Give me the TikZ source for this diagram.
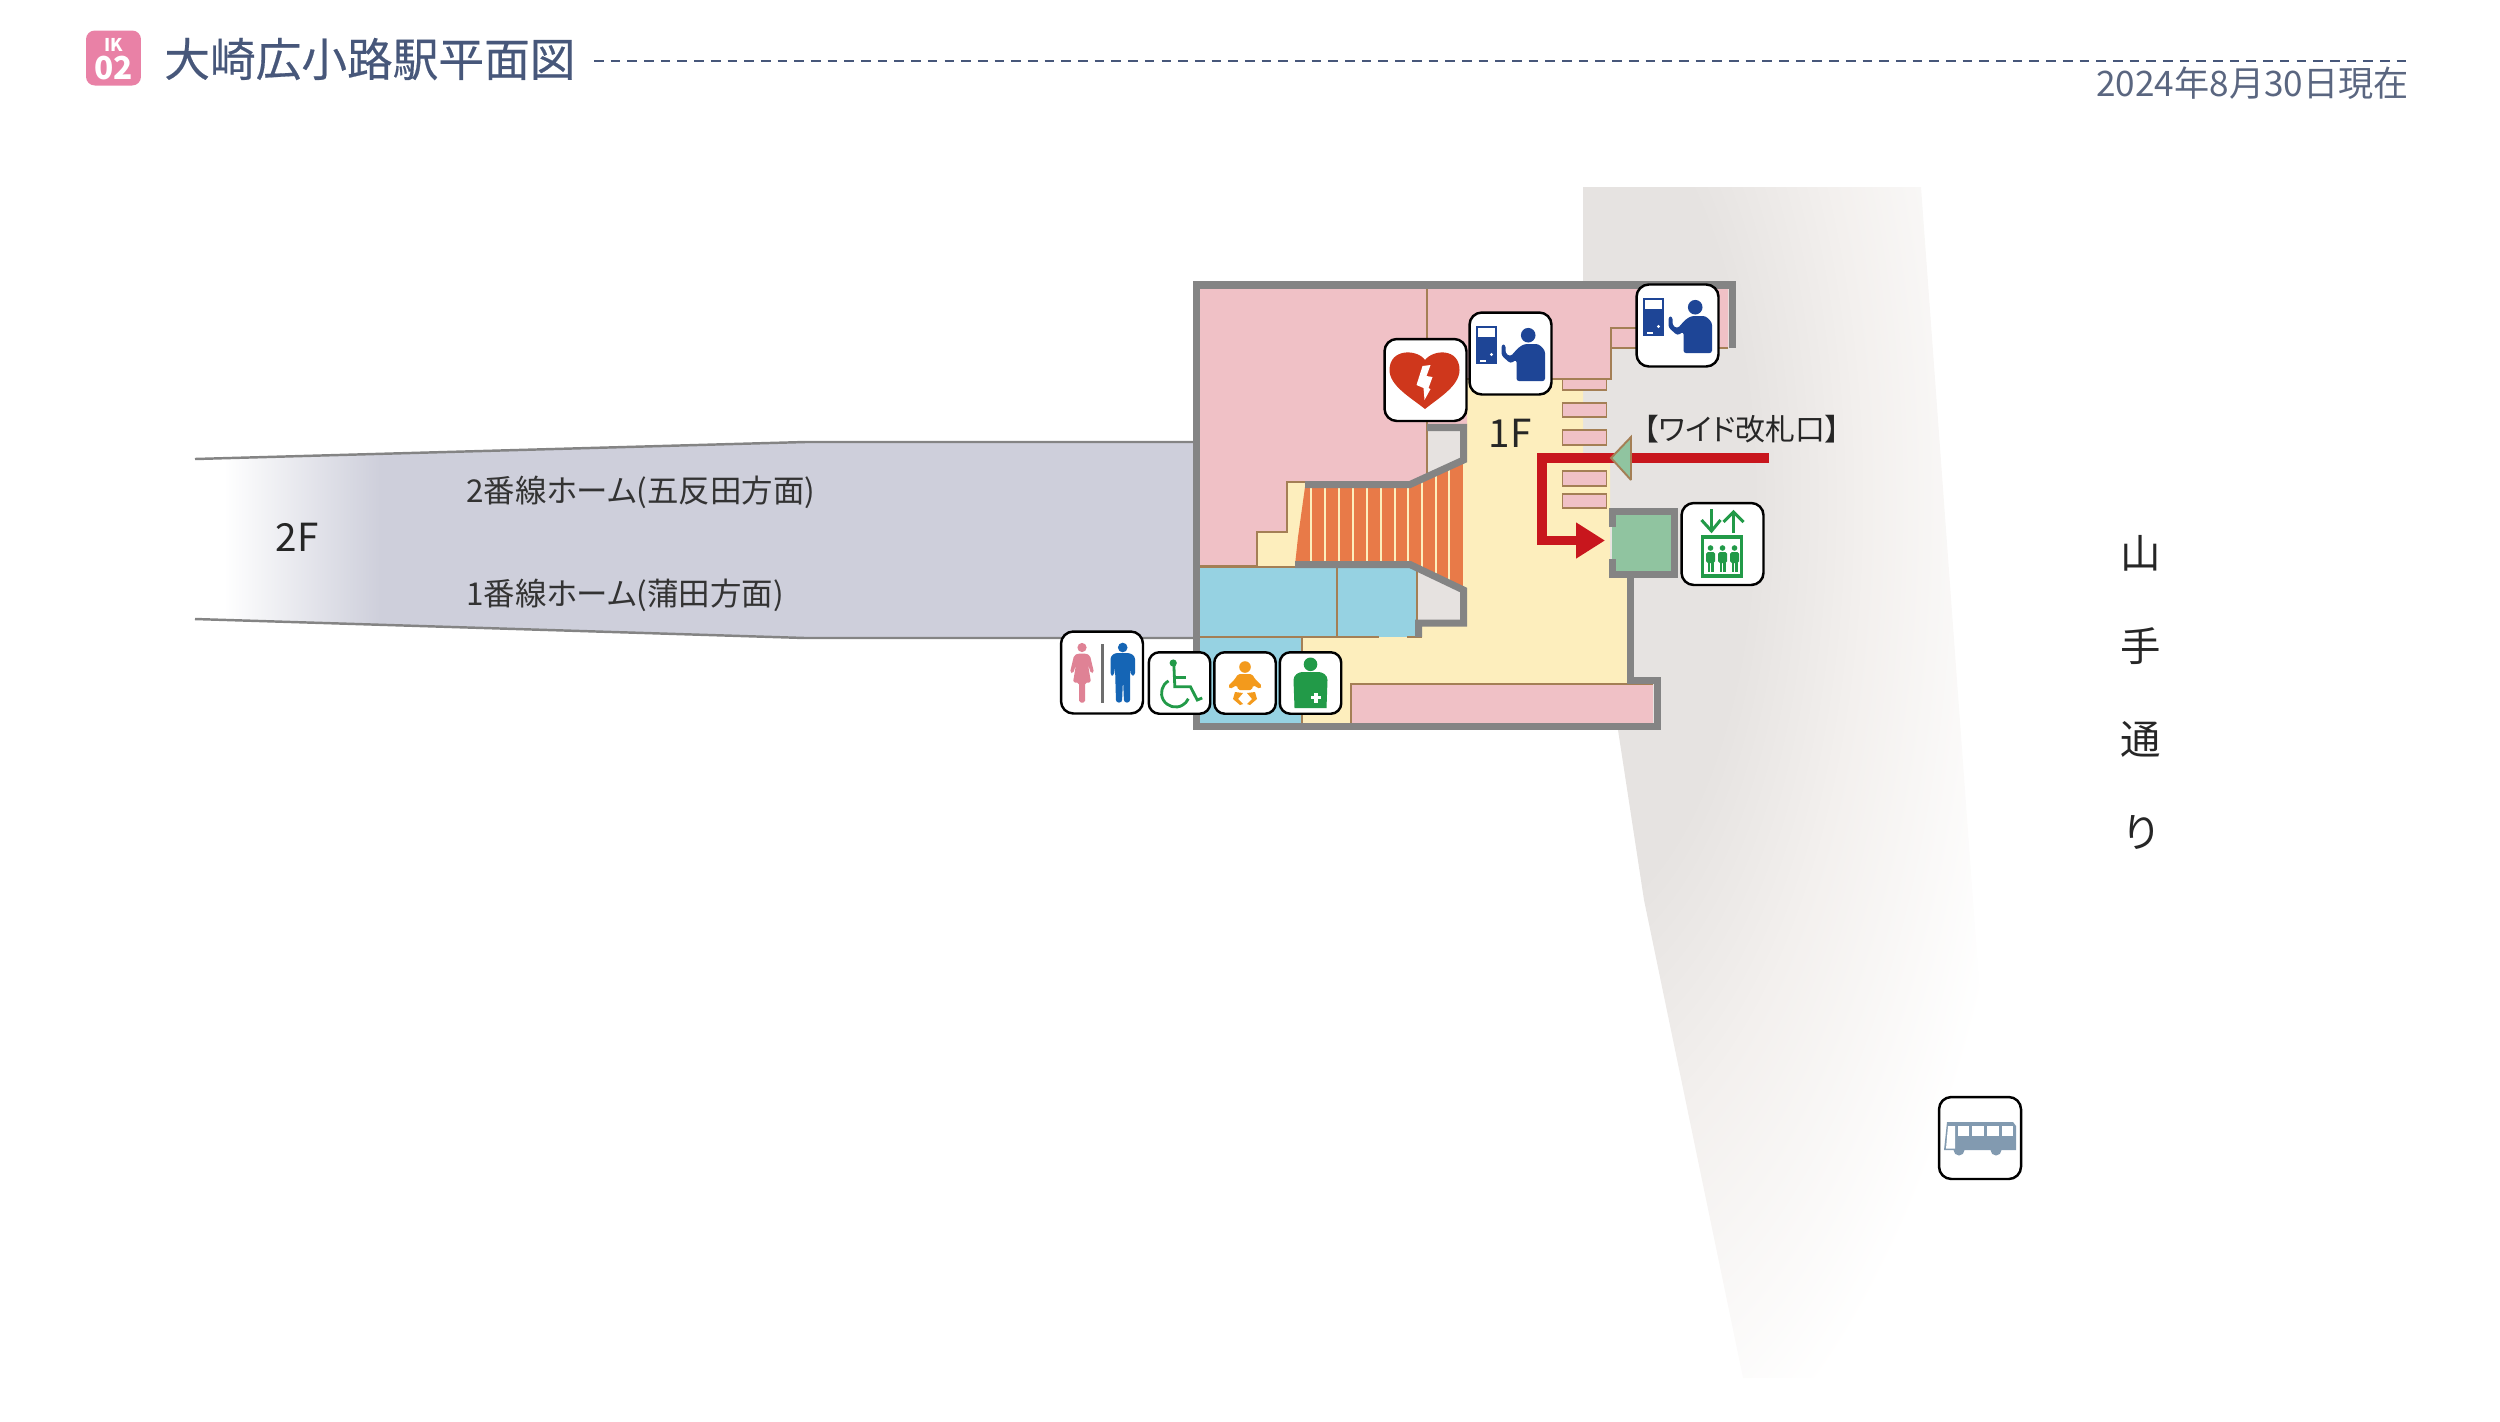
\documentclass[tikz,border=0pt]{standalone}
\usepackage{fontspec}
\setmainfont{Noto Sans CJK JP}[RawFeature=+palt]
\newfontfamily\titlefont{Noto Sans CJK JP}[FakeBold=0.4]
\usetikzlibrary{arrows.meta,positioning,calc}

\definecolor{navytext}{HTML}{47577A}
\definecolor{datetext}{HTML}{5A6680}
\definecolor{badgepink}{HTML}{E981A6}
\definecolor{wallgrey}{HTML}{848484}
\definecolor{roomline}{HTML}{A47F55}
\definecolor{roompink}{HTML}{F0C1C6}
\definecolor{floorbeige}{HTML}{FDEEBD}
\definecolor{roomblue}{HTML}{96D2E2}
\definecolor{stairorange}{HTML}{E87A48}
\definecolor{liftgreen}{HTML}{90C4A0}
\definecolor{routered}{HTML}{C8161D}
\definecolor{niche}{HTML}{E6E2E0}
\definecolor{platform}{HTML}{CECFDB}
\definecolor{roadgrey}{HTML}{E6E3E1}
\definecolor{roadmid}{HTML}{F3F0EE}
\definecolor{signblue}{HTML}{1E4596}
\definecolor{signred}{HTML}{CF371C}
\definecolor{signgreen}{HTML}{229A48}
\definecolor{signorange}{HTML}{F39A1C}
\definecolor{signpink}{HTML}{DF8295}
\definecolor{signmale}{HTML}{1565B5}
\definecolor{signgrey}{HTML}{6E6E6E}
\definecolor{signbus}{HTML}{829AB0}

\pgfdeclareradialshading{roadfade}{\pgfpointorigin}{color(0bp)=(roadgrey); color(10bp)=(roadgrey); color(16bp)=(roadmid); color(25bp)=(white); color(50bp)=(white)}

\tikzset{
  ticketmark/.pic={
    \fill [signblue] (-35,-28) rectangle (-14,10);
    \fill [white] (-33,-26) rectangle (-16,-17);
    \fill [white] (-19,1) circle [radius=1.6];
    \fill [white] (-31,6.5) rectangle (-25,8.5);
    \fill [signblue] (17.7,-18.3) circle [radius=7.3];
    \fill [signblue, rounded corners=1.5] (6,27.6) -- (6,6) -- (0,10) -- (-9,2) -- (-9,-9) -- (-5,-9) -- (-5,0) -- (0,3) -- (8,-6) -- (14,-9.5) -- (28,-9.5) -- (34.5,-3) -- (34.5,27.6) -- cycle;
  },
  aedmark/.pic={
    \fill [signred] (-0.5,-20) .. controls (-8,-31) and (-36,-32) .. (-36,-10) .. controls (-36,6) and (-14,18) .. (-0.5,29) .. controls (13,18) and (34,6) .. (34,-10) .. controls (34,-32) and (8,-31) .. (-0.5,-20) -- cycle;
    \fill [white] (-3,-14) -- (5,-15) -- (1,-4) -- (7,-3) -- (3,8) -- (5,9) -- (-1,20) -- (-2,8) -- (-9,5) -- cycle;
  },
  liftmark/.pic={
    \draw [signgreen, line width=1.7pt] (-11,-35) -- (-11,-13);
    \draw [signgreen, line width=1.7pt] (-21,-24) -- (-11,-13) -- (-2,-24);
    \draw [signgreen, line width=1.7pt] (11,-11) -- (11,-32);
    \draw [signgreen, line width=1.7pt] (1,-22) -- (11,-32) -- (21,-22);
    \draw [signgreen, line width=2.2pt] (-20,-7) rectangle (19,32);
    \foreach \px in {-12,0,12} {
      \fill [signgreen] (\px,4) circle [radius=2.8];
      \fill [signgreen, rounded corners=1] (\px-4.5,8) rectangle (\px+4.5,19);
      \fill [signgreen] (\px-3,15) rectangle (\px-0.5,28);
      \fill [signgreen] (\px+0.5,15) rectangle (\px+3,28);
    }
  },
  toiletmark/.pic={
    \fill [signpink] (-20,-25) circle [radius=4.6];
    \fill [signpink, rounded corners=1] (-24,-19) -- (-16,-19) -- (-12,-17) -- (-8,0) -- (-11,1) -- (-14,-8) -- (-11,10) -- (-17,10) -- (-17,30) -- (-23,30) -- (-23,10) -- (-29,10) -- (-26,-8) -- (-29,1) -- (-32,0) -- (-28,-17) -- cycle;
    \fill [signgrey] (-1.5,-29) rectangle (2.3,30);
    \fill [signmale] (20.7,-25) circle [radius=4.8];
    \fill [signmale, rounded corners=1.5] (13,-19.5) -- (28,-19.5) -- (33,-16) -- (33,3) -- (29,3) -- (28,-6) -- (28,30) -- (22,30) -- (21,7) -- (20,30) -- (14,30) -- (13,-6) -- (12,3) -- (8.5,3) -- (8.5,-16) -- cycle;
  },
  wheelmark/.pic={
    \fill [signgreen] (-6.3,-20) circle [radius=3.6];
    \draw [signgreen, line width=1.6pt] (-5.7,-20) -- (-4.7,3.7) -- (11,3.7) -- (17.7,17) -- (22.7,15);
    \draw [signgreen, line width=1.6pt] (-4.7,-5.3) -- (6,-5.3);
    \draw [signgreen, line width=1.6pt] (-11,-2.1) arc [start angle=240, end angle=24, radius=14];
  },
  babymark/.pic={
    \fill [signorange] (0,-16) circle [radius=5.8];
    \fill [signorange, rounded corners=1] (-7,-9) -- (7,-9) -- (10,-4) -- (17,3) -- (15,6) -- (8,2) -- (7,7) -- (-7,7) -- (-8,2) -- (-15,6) -- (-17,3) -- (-10,-4) -- cycle;
    \fill [signorange] (-10,9) -- (-2,10) -- (-7,16) -- (-2,21) -- (-5,22) -- (-12,16) -- cycle;
    \fill [signorange] (10,9) -- (2,10) -- (7,16) -- (2,21) -- (5,22) -- (12,16) -- cycle;
  },
  nursemark/.pic={
    \fill [signgreen] (0,-18.7) circle [radius=6.8];
    \fill [signgreen] (-16,25) -- (16,25) -- (17,-3) .. controls (17,-8) and (12,-11) .. (8,-11) -- (-8,-11) .. controls (-12,-11) and (-17,-8) .. (-17,-3) -- cycle;
    \fill [white] (3.5,9.7) rectangle (7.1,19.7);
    \fill [white] (0.3,13) rectangle (10.3,16.4);
  },
  busmark/.pic={
    \fill [signbus] (-36,12) -- (-33,-16) -- (33,-16) -- (36,-12) -- (36,12) -- cycle;
    \fill [signbus] (-21,12) circle [radius=5.5];
    \fill [signbus] (16,12) circle [radius=5.5];
    \fill [white] (-32,-12) -- (-25,-12) -- (-25,10.5) -- (-34,10.5) -- cycle;
    \fill [white] (-22,-12) rectangle (-11.5,-2.5);
    \fill [white] (-8,-12) rectangle (3.7,-2.5);
    \fill [white] (6.7,-12) rectangle (18.7,-2.5);
    \fill [white] (21.7,-12) rectangle (32.7,-2.5);
  }
}

\begin{document}
\begin{tikzpicture}[x=0.02cm, y=-0.02cm]

\tikzstyle{wall} = [draw=wallgrey, line width=4pt, line join=miter]
\tikzstyle{roomedge} = [draw=roomline, line width=1.1pt]
\tikzstyle{gatebar} = [rectangle, fill=roompink, draw=roomline, line width=1.1pt, minimum width=0.88cm, inner sep=0pt]
\tikzstyle{bigsign} = [rectangle, rounded corners=7pt, fill=white, draw=black, line width=1.4pt, minimum size=1.64cm, inner sep=0pt]
\tikzstyle{smallsign} = [rectangle, rounded corners=6pt, fill=white, draw=black, line width=1.4pt, minimum size=1.23cm, inner sep=0pt]
\tikzstyle{floorlabel} = [inner sep=0pt, font=\fontsize{22}{24}\selectfont, text=black!85]
\tikzstyle{homelabel} = [inner sep=0pt, anchor=west, font=\fontsize{17.9}{20}\selectfont, text=black!80]
\tikzstyle{roadlabel} = [inner sep=0pt, font=\fontsize{23}{25}\selectfont, text=black!85]

\useasboundingbox (0,0) rectangle (2500,1421);

% road
\begin{scope}
\clip (1583,187) -- (1921,187) -- (1973,900) -- (2010,1378) -- (1743,1378) -- (1644,900) -- (1618,730) -- (1583,600) -- cycle;
\shade [shading=roadfade] (1560,500) ellipse [x radius=480, y radius=1050];
\end{scope}

% header
\node (badge) [rectangle, rounded corners=5pt, fill=badgepink, minimum width=1.1cm, minimum height=1.1cm, inner sep=0pt] at (113.5,58) {};
\node (badgeik) [inner sep=0pt, text=white, font=\fontsize{10}{11}\selectfont\bfseries] at (113.5,45) {IK};
\node (badgeno) [inner sep=0pt, text=white, font=\fontsize{18}{19}\selectfont\bfseries] at (113.5,68) {02};
\node (title) [inner sep=0pt, anchor=west, text=navytext, font=\titlefont\fontsize{26}{28}\selectfont] at (164,59) {大崎広小路駅平面図};
\coordinate (dashstart) at (594,61);
\coordinate (dashend) at (2411,61);
\draw [navytext, line width=1.4pt, dash pattern=on 5.5pt off 4pt] (dashstart) -- (dashend);
\node (asof) [inner sep=0pt, anchor=east, text=datetext, font=\fontsize{20}{22}\selectfont] at (2409,83) {2024年8月30日現在};

% platform
\shade [left color=white, right color=platform] (224,458.2) -- (380,453.8) -- (380,624.8) -- (224,619.9) -- cycle;
\fill [platform] (380,453.8) -- (805,442) -- (1199,442) -- (1199,638) -- (805,638) -- (380,624.8) -- cycle;
\draw [wallgrey, line width=1.4pt] (195,459) -- (805,442) -- (1199,442);
\draw [wallgrey, line width=1.4pt] (195,619) -- (805,638) -- (1199,638);

% floors
\fill [floorbeige] (1199,288) -- (1583,288) -- (1583,453) -- (1610,453) -- (1610,575) -- (1630,575) -- (1630,723) -- (1199,723) -- cycle;
\fill [roompink] (1199,288) -- (1728,288) -- (1728,348) -- (1611,348) -- (1611,379) -- (1467,379) -- (1467,427) -- (1427,427) -- (1427,482) -- (1287,482) -- (1287,532) -- (1257,532) -- (1257,566) -- (1199,566) -- cycle;
\fill [roomblue] (1199,566.7) rectangle (1417,637);
\fill [roomblue] (1199,637) rectangle (1302,723);
\fill [roompink] (1351,684) rectangle (1653,723);
\fill [niche] (1427,427) -- (1463,427) -- (1463,460) -- (1427,476) -- cycle;
\fill [niche] (1417,570) -- (1463,590) -- (1463,623) -- (1417,623) -- cycle;

% stairs
\begin{scope}
\clip (1298,537) -- (1305,487) -- (1410,487) -- (1463,462) -- (1463,590) -- (1410,565) -- (1295,565) -- cycle;
\fill [stairorange] (1290,450) rectangle (1463,600);
\foreach \sx in {1311,1325,1339,1353,1367,1381,1395,1408,1422,1436,1449}
  \draw [floorbeige, line width=1.3pt] (\sx,450) -- (\sx,600);
\end{scope}

% thin lines
\draw [roomedge] (1199,566) -- (1257,566) -- (1257,532) -- (1287,532) -- (1287,482) -- (1305,482);
\draw [roomedge] (1427,288) -- (1427,476);
\draw [roomedge] (1636,328) -- (1611,328) -- (1611,379) -- (1467,379);
\draw [roomedge] (1611,348) -- (1728,348);
\draw [roomedge] (1298,566.7) -- (1199,566.7);
\draw [roomedge] (1337,566.7) -- (1337,637);
\draw [roomedge] (1417,567) -- (1417,623);
\draw [roomedge] (1199,637) -- (1379,637);
\draw [roomedge] (1407,637) -- (1422,637);
\draw [roomedge] (1302,637) -- (1302,723);
\draw [roomedge] (1351,723) -- (1351,684) -- (1653,684);

% walls
\draw [wall] (1732,348) -- (1732,285) -- (1196,285) -- (1196,726.5) -- (1657,726.5) -- (1657,680.5) -- (1630,680.5) -- (1630,575);
\draw [wall] (1305,484.5) -- (1410,484.5) -- (1463.5,460) -- (1463.5,427.5) -- (1427,427.5);
\draw [wall] (1295,564.5) -- (1410,564.5) -- (1463.5,590) -- (1463.5,623) -- (1418.5,623) -- (1418.5,637);

% lift
\node (lift) [rectangle, fill=liftgreen, minimum width=1.24cm, minimum height=1.26cm, inner sep=0pt] at (1643,542.5) {};
\draw [wall] (1612,527) -- (1612,511) -- (1674,511) -- (1674,574) -- (1612,574) -- (1612,559);

% gates
\node (gate1) [gatebar, minimum height=0.22cm] at (1584.5,384.5) {};
\node (gate2) [gatebar, minimum height=0.28cm] at (1584.5,410) {};
\node (gate3) [gatebar, minimum height=0.3cm] at (1584.5,437.5) {};
\node (gate4) [gatebar, minimum height=0.3cm] at (1584.5,478.5) {};
\node (gate5) [gatebar, minimum height=0.28cm] at (1584.5,501) {};

% route
\coordinate (routein) at (1769,458);
\coordinate (routeturn) at (1542,458);
\coordinate (routedown) at (1542,540.5);
\coordinate (routeend) at (1605,540.5);
\draw [routered, line width=5.4pt, line join=miter, -{Triangle[length=16.4pt,width=19.3pt]}] (routein) -- (routeturn) -- (routedown) -- (routeend);
\fill [liftgreen] (1611,458) -- (1631,437) -- (1631,480) -- cycle;
\draw [roomline, line width=1.1pt] (1631,480) -- (1611,458) -- (1631,437) -- (1631,480);

% signs
\node (aed) [bigsign] at (1425.5,380) {};
\pic at (aed) {aedmark};
\node (ticketa) [bigsign] at (1510.5,353.5) {};
\pic at (ticketa) {ticketmark};
\node (ticketb) [bigsign] at (1677.5,325.5) {};
\pic at (ticketb) {ticketmark};
\node (liftsign) [bigsign] at (1722.5,544) {};
\pic at (liftsign) {liftmark};
\node (toilet) [bigsign] at (1102,672.5) {};
\pic at (toilet) {toiletmark};
\node (wheel) [smallsign] at (1179.5,683) {};
\pic at (wheel) {wheelmark};
\node (baby) [smallsign] at (1245,683) {};
\pic at (baby) {babymark};
\node (nurse) [smallsign] at (1310.5,683) {};
\pic at (nurse) {nursemark};
\node (bus) [bigsign] at (1980,1138) {};
\pic at (bus) {busmark};

% labels
\node (floortwo) [floorlabel] at (297,537) {2F};
\node (floorone) [floorlabel] at (1510,433) {1F};
\node (hometwo) [homelabel] at (466,492) {2番線ホーム(五反田方面)};
\node (homeone) [homelabel] at (466,595) {1番線ホーム(蒲田方面)};
\node (widegate) [inner sep=0pt, font=\fontsize{17}{20}\selectfont, text=black!85] at (1742,429) {【ワイド改札口】};
\node (roada) [roadlabel] at (2141,553) {山};
\node (roadb) [roadlabel, below=53pt of roada.center, anchor=center] {手};
\node (roadc) [roadlabel, below=53pt of roadb.center, anchor=center] {通};
\node (roadd) [roadlabel, below=53pt of roadc.center, anchor=center] {り};

\end{tikzpicture}
\end{document}
